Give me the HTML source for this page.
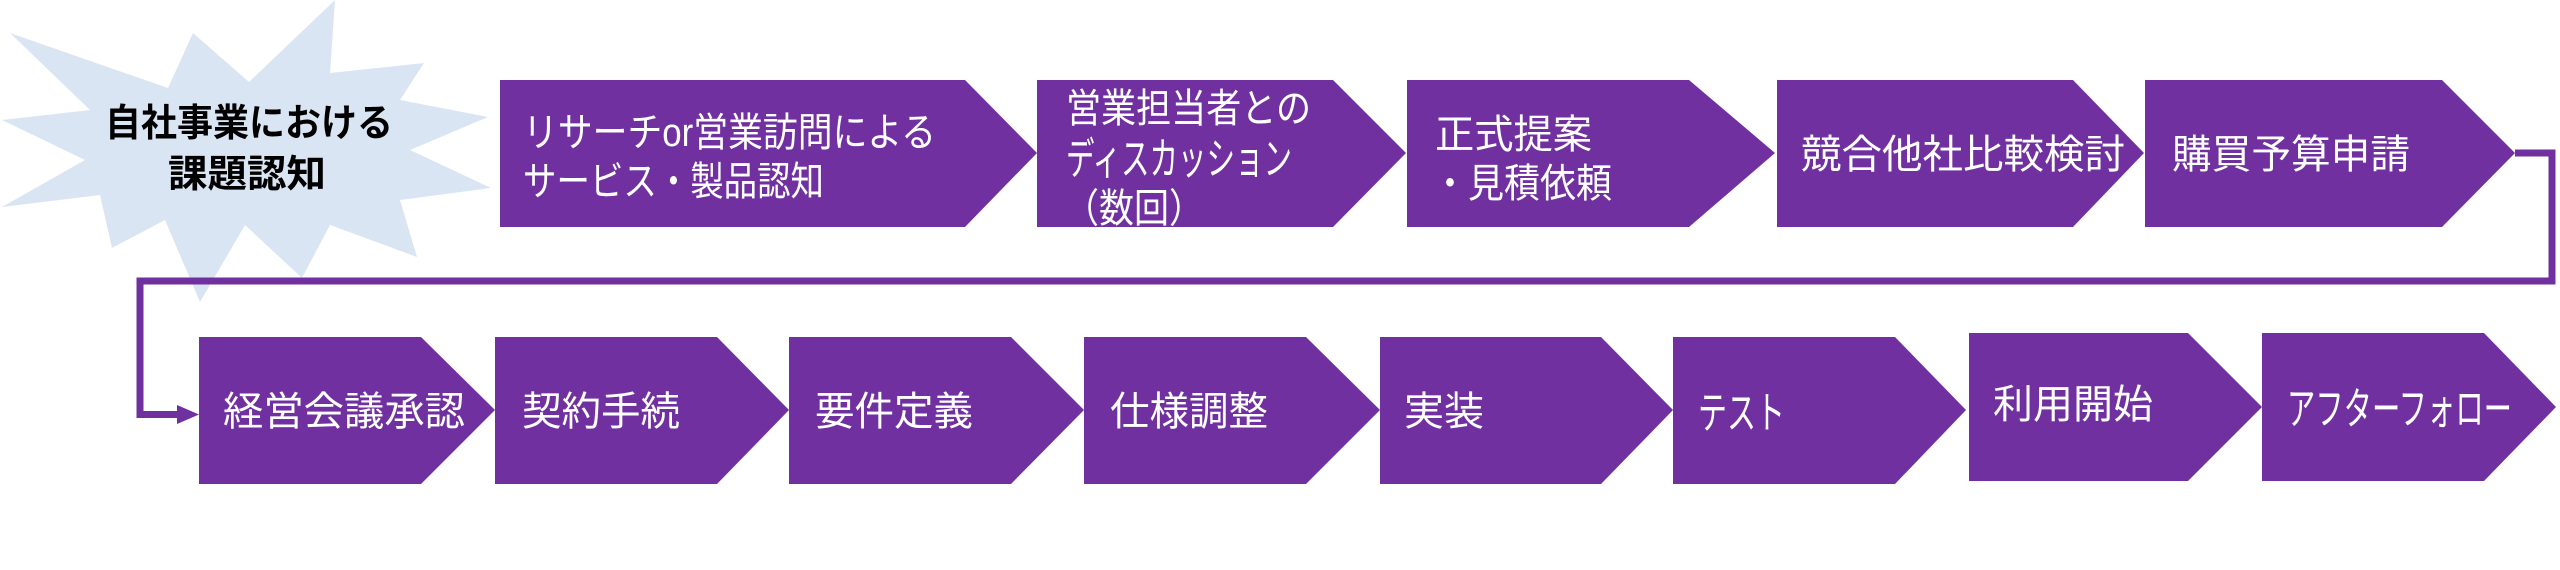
<!DOCTYPE html>
<html><head><meta charset="utf-8"><style>
html,body{margin:0;padding:0;background:#fff;}
svg{display:block}
text{font-family:"Liberation Sans","Noto Sans CJK JP",sans-serif;}
.w{fill:#fff;font-size:40px;}
.k{font-size:44px;}
</style></head><body>
<svg width="2560" height="570" viewBox="0 0 2560 570" xmlns="http://www.w3.org/2000/svg">
<polygon fill="#DAE5F3" points="335,0 330,73 424,63 400,100 488,117 410,150 491,188 400,200 417,257 330,225 302,278 245,225 200,302 165,220 112,248 100,195 2,207 85,160 2,120 90,110 10,33 168,88 193,33 249,82"/>
<text x="249" y="136" text-anchor="middle" font-size="38" font-weight="bold" fill="#000" textLength="288" lengthAdjust="spacingAndGlyphs">自社事業における</text>
<text x="247" y="187" text-anchor="middle" font-size="38" font-weight="bold" fill="#000" textLength="158" lengthAdjust="spacingAndGlyphs">課題認知</text>

<g fill="#7030A0">
<polygon points="500,80 965,80 1037,153 965,227 500,227"/>
<polygon points="1037,80 1333,80 1406,153 1333,227 1037,227"/>
<polygon points="1407,80 1689,80 1775,153 1689,227 1407,227"/>
<polygon points="1777,80 2073,80 2144,153 2073,227 1777,227"/>
<polygon points="2145,80 2442,80 2515,153 2442,227 2145,227"/>
<polygon points="199,337 421,337 495,410 421,484 199,484"/>
<polygon points="495,337 717,337 789,410 717,484 495,484"/>
<polygon points="789,337 1011,337 1084,410 1011,484 789,484"/>
<polygon points="1084,337 1306,337 1380,410 1306,484 1084,484"/>
<polygon points="1380,337 1601,337 1673,410 1601,484 1380,484"/>
<polygon points="1673,337 1895,337 1966,410 1895,484 1673,484"/>
<polygon points="1969,333 2188,333 2262,407 2188,481 1969,481"/>
<polygon points="2262,333 2484,333 2556,407 2484,481 2262,481"/>
<polygon points="177,405 199,414.5 177,424"/>
</g>
<polyline fill="none" stroke="#7030A0" stroke-width="7" points="2515,153 2552,153 2552,281 140,281 140,414.5 180,414.5"/>

<g class="w">
<text x="523" y="146" textLength="413" lengthAdjust="spacingAndGlyphs">リサーチor営業訪問による</text>
<text x="523" y="195" textLength="301" lengthAdjust="spacingAndGlyphs">サービス・製品認知</text>
<text x="1066" y="122" textLength="245" lengthAdjust="spacingAndGlyphs">営業担当者との</text>
<text class="k" x="1066" y="174" textLength="226" lengthAdjust="spacingAndGlyphs">ディスカッション</text>
<text x="1064" y="222" textLength="140" lengthAdjust="spacingAndGlyphs">（数回）</text>
<text x="1435" y="148" textLength="157" lengthAdjust="spacingAndGlyphs">正式提案</text>
<text x="1432" y="197" textLength="180" lengthAdjust="spacingAndGlyphs">・見積依頼</text>
<text x="1801" y="168" textLength="324" lengthAdjust="spacingAndGlyphs">競合他社比較検討</text>
<text x="2172" y="168" textLength="238" lengthAdjust="spacingAndGlyphs">購買予算申請</text>
<text x="223" y="425" textLength="242" lengthAdjust="spacingAndGlyphs">経営会議承認</text>
<text x="522" y="425" textLength="158" lengthAdjust="spacingAndGlyphs">契約手続</text>
<text x="815" y="425" textLength="158" lengthAdjust="spacingAndGlyphs">要件定義</text>
<text x="1110" y="425" textLength="158" lengthAdjust="spacingAndGlyphs">仕様調整</text>
<text x="1404" y="425" textLength="80" lengthAdjust="spacingAndGlyphs">実装</text>
<text class="k" x="1698" y="428" textLength="87" lengthAdjust="spacingAndGlyphs">テスト</text>
<text x="1993" y="418" textLength="160" lengthAdjust="spacingAndGlyphs">利用開始</text>
<text class="k" x="2287" y="424" textLength="225" lengthAdjust="spacingAndGlyphs">アフターフォロー</text>
</g>
</svg>
</body></html>
